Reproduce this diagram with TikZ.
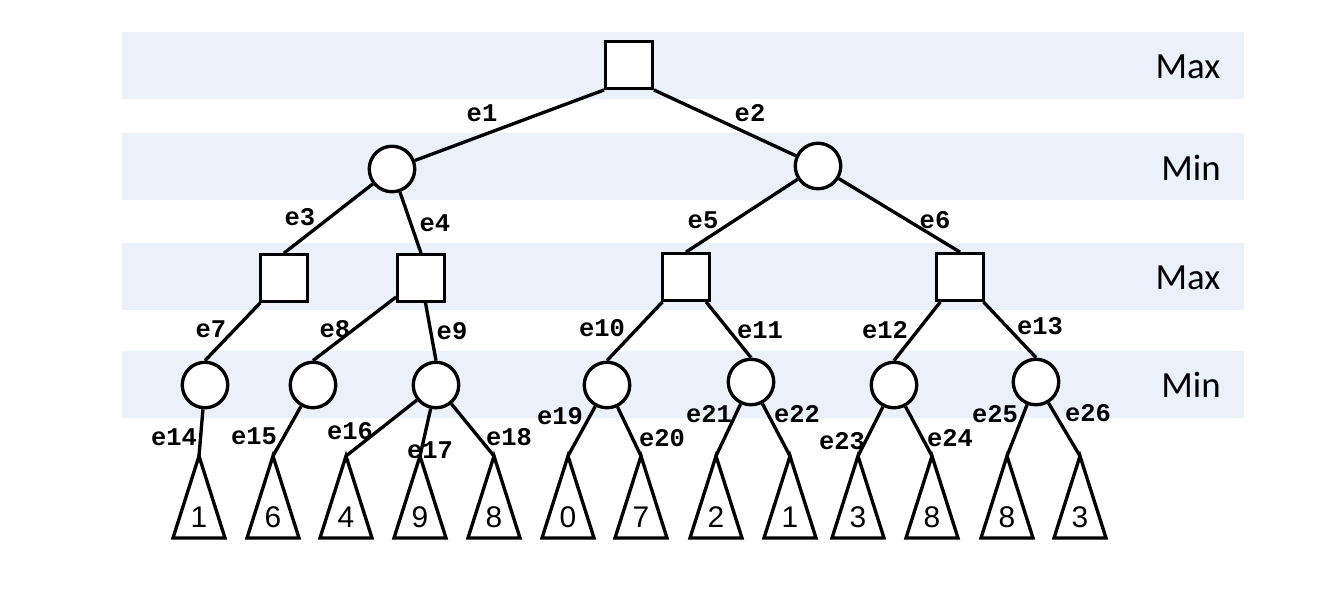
\documentclass[tikz,border=0pt]{standalone}
\usepackage{fontspec}
\setmainfont{Liberation Sans}
\newfontfamily\bandfont{Carlito}
\newfontfamily\edgefont{Liberation Mono}
\usetikzlibrary{positioning}
\definecolor{bandblue}{RGB}{234,241,250}

\begin{document}
\begin{tikzpicture}[x=0.02cm,y=-0.02cm,line width=1.9pt,
  maxnode/.style={draw,fill=white,minimum size=0.93cm,inner sep=0},
  minnode/.style={draw,fill=white,circle,minimum size=0.91cm,inner sep=0},
  band/.style={fill=bandblue,draw=none},
  level/.style={font=\bandfont\fontsize{21}{25}\selectfont},
  elab/.style={font=\edgefont\bfseries\fontsize{14.5}{17}\selectfont,inner sep=0},
  leaf/.style={draw,line join=miter},
  digit/.style={font=\fontsize{17}{20}\selectfont,inner sep=0}]
\useasboundingbox (0,0) rectangle (1330,600);
% level bands
\foreach \y in {32,133,243,351}
  \fill[band] (122,\y) rectangle (1244,\y+67);
\node[level] (lv1) at (1188,67) {Max};
\node[level] (lv2) at (1191,168) {Min};
\node[level] (lv3) at (1188,278) {Max};
\node[level] (lv4) at (1191,385) {Min};
% tree
\node[maxnode] (root) at (629,65) {};
\node[minnode] (m1) at (392,169) {};
\node[minnode] (m2) at (818,166) {};
\node[maxnode] (s1) at (284,278) {};
\node[maxnode] (s2) at (421,278) {};
\node[maxnode] (s3) at (686,277) {};
\node[maxnode] (s4) at (960,277) {};
\node[minnode] (c1) at (205,385) {};
\node[minnode] (c2) at (313,385) {};
\node[minnode] (c3) at (436,385) {};
\node[minnode] (c4) at (607,385) {};
\node[minnode] (c5) at (751,382) {};
\node[minnode] (c6) at (894,385) {};
\node[minnode] (c7) at (1036,382) {};
% leaves
\foreach \x/\v [count=\i] in {199/1,273/6,346/4,420/9,494/8,568/0,641/7,716/2,790/1,858/3,932/8,1007/8,1080/3} {
  \coordinate (t\i) at (\x,456);
  \draw[leaf] (t\i) -- ++(-26,82) -- ++(52,0) -- cycle;
  \node[digit] (v\i) at (\x,517) {\v};
}
\draw (root.south west)--(m1); \draw (root.south east)--(m2);
\draw (m1)--(s1.north); \draw (m1)--(s2.north);
\draw (m2)--(s3.north); \draw (m2)--(s4.north);
\draw (s1)--(c1.north); \draw (s2)--(c2.north); \draw (s2)--(c3.north);
\draw (s3)--(c4.north); \draw (s3)--(c5.north);
\draw (s4)--(c6.north); \draw (s4)--(c7.north);
\foreach \c/\t in {c1/t1,c2/t2,c3/t3,c3/t4,c3/t5,c4/t6,c4/t7,c5/t8,c5/t9,c6/t10,c6/t11,c7/t12,c7/t13}
  \draw (\c)--(\t);
% edge names
\foreach \n/\x/\y in {1/482/113,2/750/113,3/300/217,4/435/223,5/703/220,6/935/220,
    7/211/329,8/335/329,9/452/331,10/602/328,11/760/330,12/885/330,13/1040/326,
    14/174/437,15/254/436,16/350/431,17/430/450,18/509/437,19/560/416,20/662/438,
    21/709/414,22/797/414,23/842/441,24/950/438,25/995/414,26/1088/413}
  \node[elab] (l\n) at (\x,\y) {e\n};
\end{tikzpicture}
\end{document}
